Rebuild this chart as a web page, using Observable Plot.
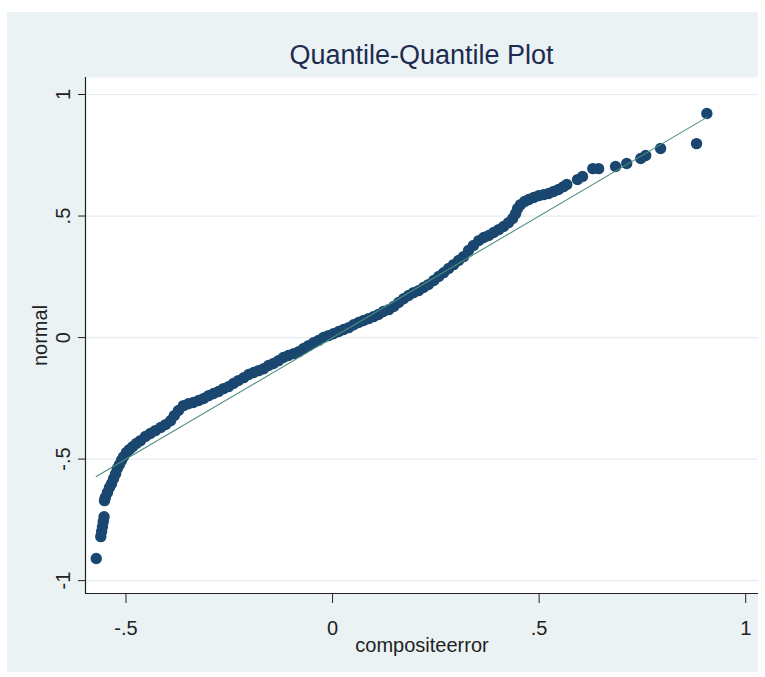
<!DOCTYPE html>
<html>
<head>
<meta charset="utf-8">
<script src="https://cdn.jsdelivr.net/npm/d3@7"></script>
<script src="https://cdn.jsdelivr.net/npm/@observablehq/plot@0.6"></script>
<style>
  html, body { margin: 0; padding: 0; background: #ffffff; }
  #chart { position: relative; width: 765px; height: 677px; font-family: "Liberation Sans", Arial, sans-serif; }
  #panel { position: absolute; left: 7px; top: 12px; width: 751px; height: 660px; background: #eaf2f3; }
  #title { position: absolute; left: 85px; width: 673px; top: 39px; text-align: center; font-size: 27px; line-height: 32px; color: #1d2b50; }
  #plot { position: absolute; left: 0; top: 77px; }
</style>
</head>
<body>
<div id="chart">
  <div id="panel"></div>
  <div id="title">Quantile-Quantile Plot</div>
  <div id="plot"></div>
</div>
<script>
// Sorted composite error values and their matching normal quantiles
const compositeerror = [
  -0.572, -0.561, -0.559, -0.557, -0.555, -0.553, -0.552, -0.550, -0.545, -0.540,
  -0.535, -0.530, -0.525, -0.521, -0.516, -0.511, -0.506, -0.499, -0.492, -0.484,
  -0.475, -0.465, -0.453, -0.441, -0.429, -0.416, -0.404, -0.392, -0.383, -0.373,
  -0.361, -0.349, -0.337, -0.324, -0.312, -0.300, -0.288, -0.276, -0.264, -0.252,
  -0.240, -0.228, -0.215, -0.203, -0.191, -0.179, -0.167, -0.155, -0.143, -0.131,
  -0.119, -0.107, -0.094, -0.082, -0.070, -0.058, -0.046, -0.034, -0.022, -0.010,
   0.002,  0.015,  0.027,  0.039,  0.051,  0.063,  0.075,  0.087,  0.099,  0.111,
   0.123,  0.136,  0.148,  0.160,  0.172,  0.184,  0.196,  0.208,  0.220,  0.232,
   0.245,  0.257,  0.269,  0.281,  0.293,  0.305,  0.317,  0.329,  0.341,  0.354,
   0.366,  0.378,  0.390,  0.402,  0.414,  0.426,  0.436,  0.443,  0.448,  0.455,
   0.465,  0.475,  0.487,  0.499,  0.511,  0.523,  0.535,  0.547,  0.559,  0.567,
   0.593,  0.605,  0.630,  0.644,  0.685,  0.712,  0.746,  0.758,  0.794,  0.881,
   0.906
];
const normal = [
  -0.909, -0.819, -0.798, -0.778, -0.757, -0.737, -0.671, -0.658, -0.638, -0.617,
  -0.601, -0.580, -0.560, -0.539, -0.523, -0.506, -0.490, -0.473, -0.461, -0.449,
  -0.436, -0.424, -0.407, -0.395, -0.383, -0.370, -0.358, -0.342, -0.321, -0.300,
  -0.280, -0.272, -0.267, -0.259, -0.251, -0.239, -0.230, -0.222, -0.210, -0.202,
  -0.189, -0.177, -0.165, -0.152, -0.144, -0.136, -0.128, -0.115, -0.107, -0.095,
  -0.082, -0.074, -0.066, -0.058, -0.045, -0.033, -0.021, -0.012,  0.000,  0.008,
   0.016,  0.025,  0.033,  0.041,  0.053,  0.062,  0.070,  0.078,  0.086,  0.095,
   0.107,  0.115,  0.128,  0.144,  0.160,  0.173,  0.185,  0.193,  0.206,  0.218,
   0.235,  0.251,  0.267,  0.284,  0.300,  0.317,  0.333,  0.358,  0.379,  0.399,
   0.412,  0.420,  0.432,  0.444,  0.457,  0.473,  0.490,  0.510,  0.531,  0.547,
   0.560,  0.568,  0.576,  0.584,  0.588,  0.593,  0.601,  0.609,  0.621,  0.630,
   0.650,  0.663,  0.695,  0.695,  0.704,  0.716,  0.737,  0.749,  0.778,  0.798,
   0.922
];

const xTicks = [-0.5, 0, 0.5, 1];
const xTickLabels = ["-.5", "0", ".5", "1"];
const yTicks = [-1, -0.5, 0, 0.5, 1];
const yTickLabels = ["-1", "-.5", "0", ".5", "1"];

const xDomain = [-0.598, 1.031];
const yDomain = [-1.053, 1.070];

const points = compositeerror.map((x, i) => ({x, y: normal[i]}));

// Reference line y = x across the range of the data
const lo = d3.min(compositeerror), hi = d3.max(compositeerror);
const reference = [{x: lo, y: lo}, {x: hi, y: hi}];

const chart = Plot.plot({
  width: 765,
  height: 600,
  marginLeft: 85,
  marginRight: 7,
  marginTop: 0,
  marginBottom: 84,
  style: {background: "transparent", fontFamily: "'Liberation Sans', Arial, sans-serif", color: "#222"},
  x: {domain: xDomain},
  y: {domain: yDomain},
  marks: [
    Plot.frame({fill: "#ffffff", stroke: null}),
    Plot.gridY(yTicks, {stroke: "#e4edf1", strokeOpacity: 1, strokeWidth: 1.2}),
    Plot.dot(points, {x: "x", y: "y", r: 5.7, fill: "#1a476f"}),
    Plot.line(reference, {x: "x", y: "y", stroke: "#4f8f7e", strokeWidth: 1.1}),
    Plot.ruleX([xDomain[0]], {stroke: "#222", strokeWidth: 1.2}),
    Plot.ruleY([yDomain[0]], {stroke: "#222", strokeWidth: 1.2}),
    Plot.axisX(xTicks, {
      tickSize: 10, tickPadding: 17, fontSize: 20,
      tickFormat: (d) => xTickLabels[xTicks.indexOf(d)],
      label: "compositeerror", labelAnchor: "center", labelArrow: "none", labelOffset: 58
    }),
    Plot.axisY(yTicks, {
      tickSize: 7, tickPadding: 9, tickRotate: -90, fontSize: 20,
      tickFormat: (d) => yTickLabels[yTicks.indexOf(d)],
      label: "normal", labelAnchor: "center", labelArrow: "none", labelOffset: 53
    })
  ]
});
document.getElementById("plot").appendChild(chart);
</script>
</body>
</html>
